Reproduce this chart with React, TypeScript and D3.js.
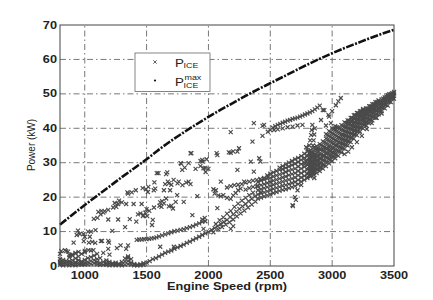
import React from "react";
import * as d3 from "d3";

// ---------- data ----------
const xTicks = [1000, 1500, 2000, 2500, 3000, 3500];
const yTicks = [0, 10, 20, 30, 40, 50, 60, 70];

// P_ICE^max curve [rpm, kW]
const pMax: [number, number][] = [
  [800, 12], [900, 14.9], [1000, 17.7], [1100, 20.4], [1200, 23.1], [1300, 25.8], [1400, 28.4],
  [1500, 31.0], [1600, 33.8], [1700, 36.4], [1800, 38.8], [1900, 41.1], [2000, 43.3], [2100, 45.4],
  [2200, 47.4], [2300, 49.4], [2400, 51.3], [2500, 53.1], [2600, 54.9], [2700, 56.7], [2800, 58.5],
  [2900, 60.2], [3000, 61.8], [3100, 63.3], [3200, 64.7], [3300, 66.1], [3400, 67.4], [3500, 68.6],
];

// P_ICE samples near idle, as columns [rpm, kW values]
const lowCluster: [number, number[]][] = [
  [800, [0.3, 0.8, 1.3, 2, 3.5]], [825, [0.2, 0.7, 1.2, 1.8]], [850, [0.4, 1.0, 1.5, 4.3]],
  [875, [0.2, 0.8, 1.4, 2.5, 3.2]], [900, [0.3, 0.9, 1.6, 3.0]], [925, [0.2, 0.7, 1.1, 2.2, 3.6]],
  [950, [0.4, 1.0, 1.7, 2.8]], [975, [0.3, 0.8, 1.3, 3.5]], [1000, [0.4, 1.0, 1.8, 4.0]],
  [1025, [0.5, 1.2, 2.3]], [1050, [0.6, 1.5, 2.6, 4.5]], [1075, [0.8, 1.7, 3.0]],
  [1100, [0.5, 1.2, 2.0, 3.5]], [1125, [0.3, 0.9, 2.3]], [1150, [0.4, 1.2, 3.8]],
  [1175, [0.3, 0.8, 1.6]], [1200, [0.2, 0.7, 1.2, 3.3]], [1225, [0.3, 0.8]], [1250, [0.2, 0.6, 1.0]],
  [1275, [0.3, 0.7]], [1300, [0.2, 0.5, 1.2]], [1325, [0.4, 1.3, 2.2]], [1350, [0.6, 1.5, 2.4, 2.8]],
  [1375, [0.4, 1.0, 2.0]], [1400, [0.2, 0.6]], [1425, [0.1, 0.4]], [1450, [0.2, 0.5]], [1475, [0.3, 0.8]],
];

// lower rising strand
const lowerLine: [number, number][] = [
  [1500, 1.0], [1525, 1.4], [1550, 2.0], [1575, 2.3], [1600, 2.8], [1625, 3.3], [1650, 3.8], [1675, 4.2],
  [1700, 4.5], [1725, 5.0], [1750, 5.4], [1775, 5.8], [1800, 6.2], [1825, 6.7], [1850, 7.1], [1875, 7.6],
  [1900, 8.0], [1925, 8.5], [1950, 9.0], [1975, 9.5], [2000, 9.9], [2025, 10.5], [2050, 11.0], [2075, 11.6],
  [2100, 12.2], [2125, 12.8], [2150, 13.4], [2175, 14.2], [2200, 15.0], [2225, 15.8], [2250, 16.6],
  [2275, 17.3], [2300, 18.0], [2325, 18.8], [2350, 19.5], [2375, 20.2], [2400, 20.8], [2425, 21.4],
  [2060, 12.2], [2090, 13.3], [2120, 14.1], [2150, 15.2], [2180, 16.0], [2210, 17.2], [2240, 18.1],
  [2270, 19.0], [2300, 19.8], [2330, 20.6], [2360, 21.3], [2040, 9.8], [2080, 10.6], [2110, 11.3],
  [2140, 12.0], [2170, 12.7], [2200, 13.5], [2230, 14.4], [2260, 15.3], [2290, 16.1], [2320, 17.0],
  [2350, 17.8], [2380, 18.7], [2200, 11.6], [2180, 10.8],
];

// middle strand
const middleLine: [number, number][] = [
  [1420, 7.6], [1440, 7.7], [1460, 7.7], [1480, 7.8], [1500, 7.8], [1520, 7.9], [1540, 8.0], [1560, 8.1],
  [1580, 8.3], [1600, 8.6], [1625, 8.9], [1650, 9.2], [1675, 9.5], [1700, 9.8], [1725, 10.1], [1750, 10.3],
  [1775, 10.5], [1800, 10.7], [1825, 11.0], [1850, 11.3], [1875, 11.6], [1900, 12.0], [1925, 12.4],
  [1950, 12.8], [1975, 13.0],
];

// scattered samples in the upper cloud
const cloud: [number, number][] = [
  [810, 4.3], [840, 4.6], [865, 4.2], [880, 3.0], [900, 3.4], [925, 3.8], [950, 4.1], [1000, 4.4],
  [1030, 4.6], [1070, 4.6], [910, 6.8], [945, 10.3], [960, 9.3], [935, 9.0], [990, 9.3], [992, 7.2],
  [1000, 8.5], [1027, 10], [1041, 8.5], [1050, 10], [1033, 6.8], [1087, 10.4], [1085, 6.7], [1060, 7.0],
  [1073, 13.7], [1103, 14], [1128, 15], [1140, 7.3], [1110, 15.7], [1150, 15.5], [1135, 16], [1160, 15.9],
  [1190, 16.3], [1130, 7.2], [1190, 7.3], [1196, 6.8], [1223, 10.2], [1190, 13.5], [1270, 13.5],
  [1190, 5], [1260, 5.2], [1335, 5], [1230, 17], [1255, 17.2], [1242, 18.3], [1270, 18], [1300, 18.5],
  [1335, 18], [1277, 19], [1290, 6], [1350, 6], [1326, 11.3], [1364, 13.6], [1345, 21.4], [1350, 21],
  [1380, 21.4], [1395, 18], [1413, 22], [1417, 12.9], [1430, 15], [1450, 15.3], [1460, 18], [1468, 22.6],
  [1475, 14.8], [1490, 15.5], [1505, 14.5], [1470, 14.5], [1495, 22.3], [1510, 21.5], [1514, 23],
  [1522, 16], [1544, 11.9], [1550, 13.4], [1558, 22], [1570, 22.5], [1563, 24.3], [1582, 27], [1596, 27],
  [1604, 17.5], [1610, 18.5], [1610, 5.6], [1625, 18.8], [1640, 18.2], [1640, 22], [1650, 23.8],
  [1658, 19.6], [1658, 26.7], [1667, 27.2], [1672, 24.5], [1680, 24.0], [1690, 22], [1700, 23.6],
  [1713, 16.7], [1718, 25], [1720, 5.6], [1735, 18.6], [1747, 20.6], [1750, 24.0], [1760, 24.5],
  [1775, 29.9], [1780, 29.7], [1788, 27.9], [1790, 23.5], [1800, 18.6], [1808, 28.6], [1820, 24.2],
  [1840, 29.9], [1840, 24.5], [1855, 32.7], [1855, 23.8], [1862, 32.8], [1870, 14.8], [1896, 28.2],
  [1910, 20.3], [1935, 29], [1950, 30.8], [1950, 13.5], [1952, 30.3], [1960, 10.8], [1970, 14],
  [1975, 28.5], [1985, 31], [2000, 28.2], [2040, 22.3], [2060, 22.0], [2066, 32.8], [2072, 32.2],
  [2072, 16.8], [2100, 24.5], [2165, 33], [2180, 32.9], [2180, 38.9], [2200, 33.3], [2234, 27.9],
  [2247, 34.2], [2342, 30.3], [2356, 36.1], [2367, 41.5], [2367, 27.4], [2410, 31.3], [2437, 40.7],
  [2437, 37.8], [1936, 30.5], [1700, 17.5], [1560, 17.0], [1500, 16.5], [1620, 17.2], [1680, 17.3],
  [1960, 28.4], [1977, 27.3], [2234, 33.2], [2420, 30.3], [2288, 24.5], [2450, 41.0],
  [2050, 21], [2080, 20.5], [2100, 20.2], [2120, 20.6], [2150, 19.8], [2180, 19.5], [2200, 20.5],
  [2220, 21.2], [2240, 22], [2260, 22.5], [2150, 22.8], [2180, 23.2], [2210, 23.5], [2240, 23.6],
  [2270, 23.8], [2300, 24.2], [2330, 24.5], [2360, 24.8], [2390, 25.0], [2420, 25.3], [2450, 25.6],
  [2480, 25.8], [2300, 22.2], [2330, 22.6], [2360, 23], [2390, 23.2],
];

// dense main band, as columns [rpm, kW values]
const mainBand: [number, number[]][] = [
  [2400, [19.6, 20.8, 22.0, 23.2, 24.4]], [2425, [19.9, 21.1, 22.3, 23.5, 24.8]],
  [2450, [20.2, 21.4, 22.6, 23.8, 25.1]], [2475, [20.5, 21.7, 22.9, 24.1, 25.4, 26.3]],
  [2500, [20.8, 22.0, 23.2, 24.4, 25.6, 26.8]], [2525, [21.2, 22.4, 23.6, 24.8, 26.0, 27.2]],
  [2550, [21.5, 22.7, 23.9, 25.1, 26.3, 27.6]], [2575, [21.8, 23.0, 24.2, 25.4, 26.6, 27.9, 28.6]],
  [2600, [22.1, 23.3, 24.5, 25.7, 26.9, 28.1, 29.0]], [2625, [22.3, 23.5, 24.8, 26.0, 27.3, 28.5, 29.5]],
  [2650, [22.6, 23.8, 25.1, 26.4, 27.7, 28.9, 30.0]], [2675, [22.9, 24.1, 25.4, 26.7, 28.0, 29.3, 30.5]],
  [2700, [23.2, 24.4, 25.7, 27.0, 28.3, 29.7, 31.0]], [2725, [23.8, 25.0, 26.3, 27.6, 28.9, 30.2, 31.4]],
  [2750, [24.5, 25.7, 27.0, 28.3, 29.6, 30.8, 31.9]], [2775, [25.0, 26.2, 27.5, 28.8, 30.1, 31.4, 32.6]],
  [2800, [25.5, 26.7, 28.0, 29.3, 30.6, 31.9, 33.2]], [2825, [26.0, 27.2, 28.5, 29.8, 31.1, 32.4, 33.7]],
  [2850, [26.5, 27.7, 29.0, 30.3, 31.6, 32.9, 34.3]], [2875, [27.0, 28.2, 29.5, 30.8, 32.1, 33.5, 34.8]],
  [2900, [27.6, 28.8, 30.1, 31.4, 32.7, 34.0, 35.4]], [2925, [28.3, 29.5, 30.8, 32.1, 33.5, 34.8, 36.2]],
  [2950, [29.0, 30.3, 31.6, 32.9, 34.2, 35.6, 37.0, 38.3]], [2975, [29.8, 31.1, 32.4, 33.7, 35.0, 36.4, 37.8, 39.2]],
  [3000, [30.5, 31.8, 33.1, 34.4, 35.8, 37.2, 38.6, 40.0]], [3025, [31.3, 32.6, 33.9, 35.2, 36.6, 38.0, 39.4, 40.6]],
  [3050, [32.0, 33.4, 34.7, 36.0, 37.4, 38.8, 40.2]], [3075, [33.0, 34.3, 35.6, 36.9, 38.2, 39.6, 40.9]],
  [3100, [34.0, 35.3, 36.6, 37.9, 39.2, 40.5, 41.7]], [3125, [35.0, 36.3, 37.6, 38.9, 40.1, 41.3, 42.3]],
  [3150, [36.0, 37.3, 38.5, 39.8, 41.0, 42.1, 43.0]], [3175, [37.0, 38.2, 39.4, 40.6, 41.8, 42.9, 43.8]],
  [3200, [38.0, 39.2, 40.4, 41.6, 42.7, 43.7, 44.5]], [3225, [39.0, 40.2, 41.4, 42.5, 43.5, 44.4, 45.0]],
  [3250, [40.0, 41.2, 42.3, 43.4, 44.4, 45.2, 45.6]], [3275, [40.8, 41.9, 43.0, 44.1, 45.0, 45.8]],
  [3300, [41.5, 42.6, 43.7, 44.8, 45.7, 46.4]], [3325, [42.3, 43.4, 44.5, 45.5, 46.3, 47.0]],
  [3350, [43.0, 44.1, 45.2, 46.2, 47.0, 47.6]], [3375, [44.0, 45.0, 46.0, 46.9, 47.7, 48.1]],
  [3400, [45.0, 46.0, 46.9, 47.7, 48.4]], [3425, [45.8, 46.8, 47.7, 48.5, 49.0]],
  [3450, [46.6, 47.6, 48.5, 49.2, 49.6]], [3475, [47.6, 48.6, 49.4, 50.0]],
  [3500, [48.6, 49.4, 50.1, 50.6]],
];

// the densest part of the band, in-between columns
const bandCore: [number, number[]][] = [
  [2812, [26.4, 27.6, 28.9, 30.2, 31.5, 32.8]], [2837, [26.9, 28.1, 29.4, 30.7, 32.0, 33.3]],
  [2862, [27.4, 28.6, 29.9, 31.2, 32.5, 33.9]], [2887, [28.0, 29.2, 30.5, 31.8, 33.1, 34.4]],
  [2912, [28.6, 29.8, 31.1, 32.4, 33.8, 35.1]], [2937, [29.3, 30.6, 31.9, 33.2, 34.5, 35.9]],
  [2962, [30.1, 31.4, 32.7, 34.0, 35.3, 36.7, 38.1]], [2987, [30.8, 32.1, 33.4, 34.7, 36.1, 37.5, 38.9]],
  [3012, [31.6, 32.9, 34.2, 35.5, 36.9, 38.3, 39.7]], [3037, [32.3, 33.6, 35.0, 36.3, 37.7, 39.1, 40.3]],
  [3062, [33.2, 34.5, 35.8, 37.1, 38.5, 39.9]], [3087, [34.2, 35.5, 36.8, 38.1, 39.4, 40.7]],
  [3112, [35.2, 36.5, 37.8, 39.0, 40.3, 41.5]], [3137, [36.2, 37.5, 38.7, 40.0, 41.2, 42.2]],
  [3162, [37.2, 38.4, 39.6, 40.8, 42.0, 43.0]], [3187, [38.2, 39.4, 40.6, 41.7, 42.9, 43.8]],
  [3212, [39.2, 40.4, 41.5, 42.6, 43.7, 44.4]], [3237, [40.2, 41.3, 42.4, 43.5, 44.5, 45.0]],
  [3262, [41.0, 42.1, 43.2, 44.3, 45.2]], [3287, [41.8, 42.9, 44.0, 45.0, 45.8]],
  [3312, [42.5, 43.6, 44.7, 45.7, 46.4]], [3337, [43.3, 44.4, 45.4, 46.4, 47.0]],
  [3362, [44.2, 45.2, 46.2, 47.0, 47.6]], [3387, [45.1, 46.1, 47.0, 47.8]],
  [3412, [46.0, 47.0, 47.9, 48.6]], [3437, [46.8, 47.8, 48.7, 49.2]],
  [3462, [47.7, 48.6, 49.4, 49.9]], [3487, [48.7, 49.5, 50.2]],
];

// upper arm, near-vertical streak and outliers around the main band
const upperArm: [number, number][] = [
  [2480, 39.0], [2500, 39.5], [2520, 40.2], [2540, 40.6], [2560, 41.0], [2580, 41.3], [2600, 41.6],
  [2620, 41.9], [2640, 42.2], [2660, 42.4], [2680, 42.7], [2700, 42.9], [2720, 43.1], [2740, 43.4],
  [2760, 43.7], [2780, 44.0], [2800, 44.3], [2820, 44.6], [2840, 45.0], [2860, 45.5], [2880, 46.0],
  [2900, 46.6], [2530, 39.5], [2560, 39.7], [2600, 40.0], [2640, 40.3], [2680, 40.5], [2720, 40.8],
  [2760, 41.0], [2924, 45.3], [2975, 43.4], [3000, 45.0], [3030, 46.7], [3050, 47.8], [3070, 48.8],
  [2937, 45.3], [2970, 43.9], [2910, 42.4], [2950, 40.8], [2990, 41.5],
  [2840, 41], [2835, 39.5], [2830, 38], [2822, 36.5], [2815, 35], [2805, 33.5], [2795, 32], [2785, 30.5],
  [2860, 40], [2855, 38.2], [2850, 36.5], [2845, 35], [2775, 29.5], [2790, 34.5],
  [2683, 17.4], [2700, 20], [2720, 22], [2750, 23.5], [2856, 25.6], [2910, 28.8], [2937, 29.3],
  [2855, 25.5], [2680, 17.7], [2707, 19.2],
  [3100, 32.5], [3130, 33.2], [3160, 34.5], [3200, 36], [3240, 37.8], [3280, 39.8], [3320, 41.5],
  [3360, 43], [3400, 44.3],
];

// ---------- layout ----------
const W = 433;
const H = 300;
const x = d3.scaleLinear().domain([800, 3500]).range([60, 394]);
const y = d3.scaleLinear().domain([0, 70]).range([266, 25]);
const SX = 1.27; // horizontal stretch of the reference text

const flatCols = (cols: [number, number[]][]) =>
  cols.flatMap(([r, ps]) => ps.map((p) => [r, p] as [number, number]));

const allPoints: [number, number][] = [
  ...flatCols(lowCluster),
  ...lowerLine,
  ...middleLine,
  ...cloud,
  ...flatCols(mainBand),
  ...flatCols(bandCore),
  ...upperArm,
];

function crossPath(pts: [number, number][], s: number) {
  return pts
    .map(([r, p]) => {
      const cx = x(r);
      const cy = y(p);
      return `M${cx - s},${cy - s}L${cx + s},${cy + s}M${cx - s},${cy + s}L${cx + s},${cy - s}`;
    })
    .join("");
}

const HText = ({ tx, ty, anchor, children, size = 10, weight = "bold" }: any) => (
  <text
    transform={`translate(${tx},${ty}) scale(${SX},1)`}
    textAnchor={anchor}
    fontSize={size}
    fontWeight={weight}
    fontFamily="Liberation Sans, Arial, sans-serif"
    fill="#222"
  >
    {children}
  </text>
);

export default function App() {
  const line = d3
    .line<[number, number]>()
    .x((d) => x(d[0]))
    .y((d) => y(d[1]))
    .curve(d3.curveMonotoneX);
  const [x0, x1] = x.range();
  const [y0, y1] = y.range();
  return (
    <svg
      width={W}
      height={H}
      style={{ position: "absolute", left: 0, top: 0, background: "#fff" }}
    >
      <rect x={0} y={0} width={W} height={H} fill="#fff" />
      {/* grid */}
      <g stroke="#555" strokeWidth={0.8} strokeDasharray="6,3,1.5,3">
        {xTicks
          .filter((t) => t < 3500)
          .map((t) => (
            <line key={"gx" + t} x1={x(t)} x2={x(t)} y1={y0} y2={y1} />
          ))}
        {yTicks
          .filter((t) => t > 0 && t < 70)
          .map((t) => (
            <line key={"gy" + t} x1={x0} x2={x1} y1={y(t)} y2={y(t)} />
          ))}
      </g>
      {/* P_ICE scatter */}
      <path d={crossPath(allPoints, 2)} stroke="#4a4a4a" strokeWidth={1.15} fill="none" />
      {/* P_ICE max */}
      <path
        d={line(pMax) || ""}
        stroke="#111"
        strokeWidth={2.6}
        fill="none"
        strokeDasharray="8,1.5,2,1.5"
      />
      {/* frame */}
      <rect x={x0} y={y1} width={x1 - x0} height={y0 - y1} fill="none" stroke="#444" strokeWidth={1} />
      {/* tick labels */}
      {xTicks.map((t) => (
        <HText key={"xl" + t} tx={x(t)} ty={279} anchor="middle">
          {t}
        </HText>
      ))}
      {yTicks.map((t) => (
        <HText key={"yl" + t} tx={57} ty={y(t) + 3.6} anchor="end">
          {t}
        </HText>
      ))}
      {/* axis titles */}
      <HText tx={227} ty={289.5} anchor="middle" size={10}>
        Engine Speed (rpm)
      </HText>
      <text
        transform={`translate(35,145) rotate(-90)`}
        textAnchor="middle"
        fontSize={10}
        fontFamily="Liberation Sans, Arial, sans-serif"
        fill="#222"
      >
        Power (kW)
      </text>
      {/* legend */}
      <rect x={135} y={53} width={75} height={38.5} fill="#fff" stroke="#666" strokeWidth={0.8} />
      <path d="M153.3,60.3L156.7,63.7M153.3,63.7L156.7,60.3" stroke="#505050" strokeWidth={0.9} />
      <circle cx={155} cy={80.5} r={1.1} fill="#111" />
      <HText tx={175} ty={66.5} anchor="start" size={10.5} weight="normal">
        P
      </HText>
      <HText tx={183.5} ty={67.5} anchor="start" size={7} weight="normal">
        ICE
      </HText>
      <HText tx={175} ty={86.3} anchor="start" size={10.5} weight="normal">
        P
      </HText>
      <HText tx={184.5} ty={79.5} anchor="start" size={7} weight="normal">
        max
      </HText>
      <HText tx={183.5} ty={87.5} anchor="start" size={7} weight="normal">
        ICE
      </HText>
    </svg>
  );
}
